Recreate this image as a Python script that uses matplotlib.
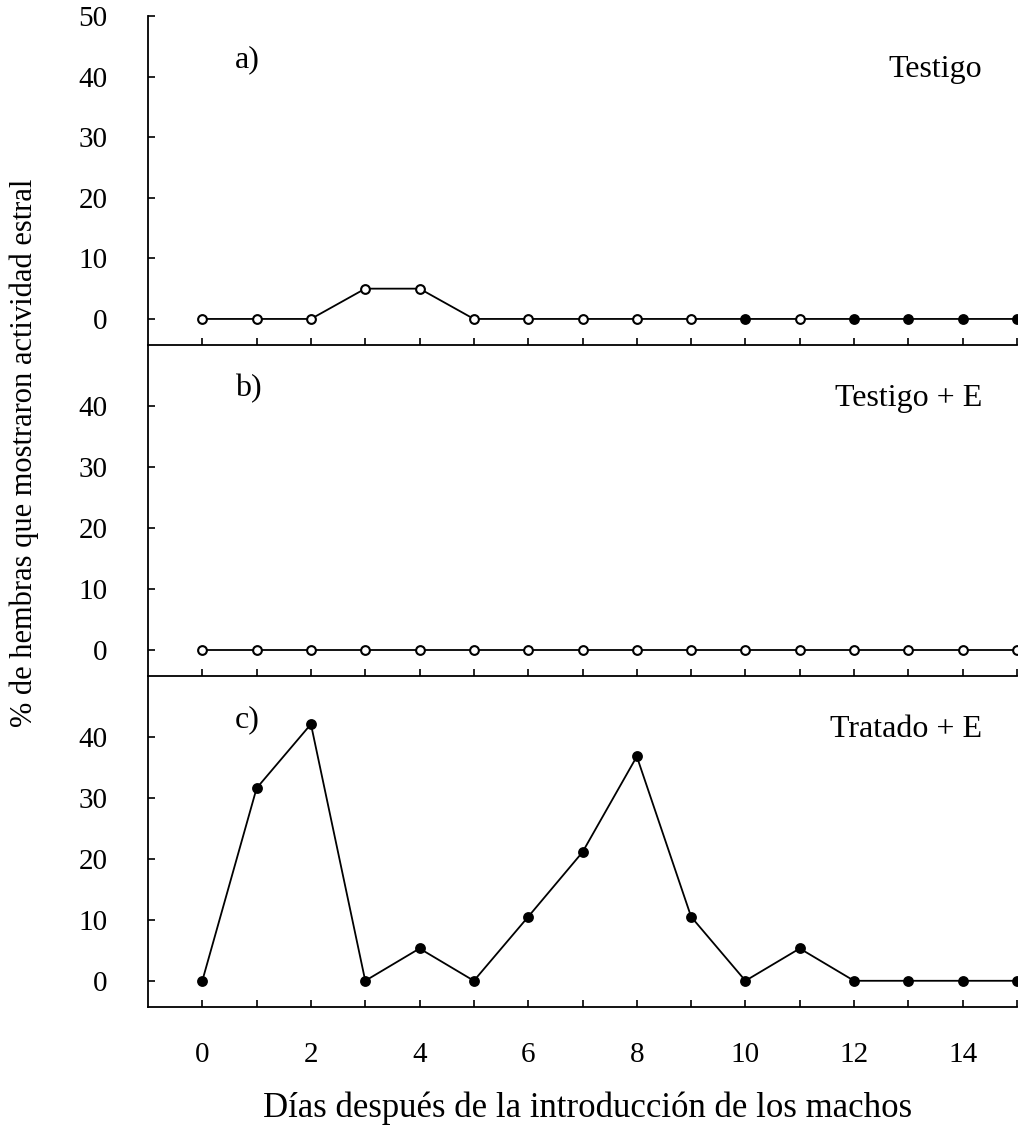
import numpy as np
import matplotlib
matplotlib.use('Agg')
import matplotlib.pyplot as plt

# datos
dias = list(range(16))
testigo = [0, 0, 0, 5, 5, 0, 0, 0, 0, 0, 0, 0, 0, 0, 0, 0]
testigo_lleno = [0, 0, 0, 0, 0, 0, 0, 0, 0, 0, 1, 0, 1, 1, 1, 1]
testigo_e = [0] * 16
testigo_e_lleno = [0] * 16
tratado_e = [0, 31.6, 42.1, 0, 5.3, 0, 10.5, 21.1, 36.8, 10.5, 0, 5.3, 0, 0, 0, 0]
tratado_e_lleno = [1] * 16

paneles = [('a)', 'Testigo', testigo, testigo_lleno, [0, 10, 20, 30, 40, 50]),
           ('b)', 'Testigo + E', testigo_e, testigo_e_lleno, [0, 10, 20, 30, 40]),
           ('c)', 'Tratado + E', tratado_e, tratado_e_lleno, [0, 10, 20, 30, 40])]

plt.rcParams['font.family'] = ['Liberation Serif', 'DejaVu Serif']
fs_tick = 21
fs_text = 23
fs_xlabel = 25
fs_ylabel = 22

fig = plt.figure(figsize=(10.23, 11.38), dpi=100)
left, width = 148 / 1023, (1017 - 148) / 1023
bordes = [(16, 345), (345, 676), (676, 1007)]

for i, (letra, nombre, y, lleno, yt) in enumerate(paneles):
    top, bot = bordes[i]
    ax = fig.add_axes([left, 1 - bot / 1138, width, (bot - top) / 1138])
    ax.plot(dias, y, color='k', lw=1.3, zorder=2)
    d = np.array(dias)
    yy = np.array(y)
    f = np.array(lleno, dtype=bool)
    ax.plot(d[~f], yy[~f], 'o', ms=6.3, mfc='white', mec='k', mew=1.5, zorder=3)
    ax.plot(d[f], yy[f], 'o', ms=6.3, mfc='k', mec='k', mew=1.5, zorder=3)

    ax.set_xlim(-1, 15)
    ax.set_ylim(-4.3, 50)
    ax.set_yticks(yt)
    ax.set_yticklabels([str(v) for v in yt], fontsize=fs_tick)
    ax.set_xticks(dias)
    if i == 2:
        ax.set_xticklabels([str(v) if v % 2 == 0 else '' for v in dias], fontsize=fs_tick)
    else:
        ax.set_xticklabels([])
    for s in ['top', 'right']:
        ax.spines[s].set_visible(False)
    for s in ['left', 'bottom']:
        ax.spines[s].set_linewidth(1.3)
    ax.tick_params(axis='y', direction='in', length=5, width=1.2, pad=29)
    ax.tick_params(axis='x', direction='in', length=5, width=1.2, pad=25)
    ax.patch.set_alpha(0)

    ax.text(0.6, 42.8, letra, fontsize=fs_text, ha='left', va='center')
    ax.text(14.36, 41.2, nombre, fontsize=fs_text, ha='right', va='center')

fig.text(0.024, 0.602, '% de hembras que mostraron actividad estral',
         rotation=90, fontsize=fs_ylabel, ha='center', va='center')
fig.text(0.574, 0.026, 'Días después de la introducción de los machos',
         fontsize=fs_xlabel, ha='center', va='center')

fig.savefig('out.png', dpi=100)
